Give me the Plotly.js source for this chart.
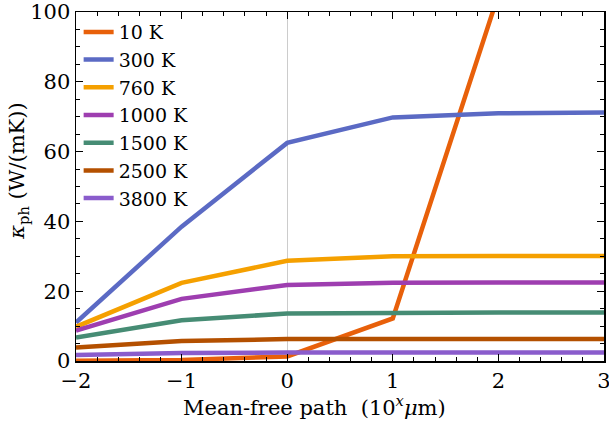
<!DOCTYPE html>
<html>
<head>
<meta charset="utf-8">
<script src="https://cdn.plot.ly/plotly-3.0.1.min.js"></script>
<style>html,body{margin:0;padding:0;background:#fff;}#plot{width:609px;height:426px;}</style>
</head>
<body>
<div id="plot"></div>
<script>
const mfp = [-2, -1, 0, 1, 2, 3];
const temps = ["10 K", "300 K", "760 K", "1000 K", "1500 K", "2500 K", "3800 K"];
const k10 = [0.05, 0.3, 1.3, 12.2, 105, 110];
const k300 = [11.0, 38.5, 62.5, 69.8, 71.0, 71.2];
const k760 = [9.8, 22.4, 28.7, 30.0, 30.1, 30.1];
const k1000 = [8.7, 17.8, 21.8, 22.4, 22.5, 22.5];
const k1500 = [6.7, 11.7, 13.6, 13.9, 13.9, 13.9];
const k2500 = [3.9, 5.7, 6.3, 6.3, 6.3, 6.3];
const k3800 = [1.7, 2.3, 2.4, 2.4, 2.4, 2.4];
const colors = ["#e8600a", "#5b6ac4", "#f5a000", "#9e3eb0", "#468c74", "#b45000", "#8a5ccc"];
const series = [k10, k300, k760, k1000, k1500, k2500, k3800];

const traces = series.map((ys, i) => ({
  x: mfp, y: ys, type: 'scatter', mode: 'lines', name: temps[i],
  line: {color: colors[i], width: 4.5}
}));

const fam = 'DejaVu Serif';
function mk(size) { return {family: fam, size: size, color: '#000'}; }
const layout = {
  width: 609, height: 426,
  margin: {l: 76, r: 5, t: 12, b: 65},
  paper_bgcolor: '#fff', plot_bgcolor: '#fff',
  font: mk(21),
  showlegend: true,
  legend: {x: 0.005, y: 0.997, xanchor: 'left', yanchor: 'top', bgcolor: 'rgba(0,0,0,0)',
           font: mk(19), tracegroupgap: 0, itemwidth: 30, maxheight: 1},
  xaxis: {
    range: [-2, 3], tickvals: [-2, -1, 0, 1, 2, 3], ticktext: ['\u22122', '\u22121', '0', '1', '2', '3'],
    showgrid: false, zeroline: true, zerolinecolor: '#cccccc', zerolinewidth: 1,
    showline: true, linecolor: '#000', linewidth: 1.5, mirror: 'ticks',
    ticks: 'inside', ticklen: 7, tickwidth: 1.2, tickcolor: '#000',
    ticklabeloverflow: 'allow',
    minor: {dtick: 0.2, ticks: 'inside', ticklen: 4, tickwidth: 1, tickcolor: '#000', showgrid: false},
    tickfont: mk(21)
  },
  yaxis: {
    range: [0, 100], tickvals: [0, 20, 40, 60, 80, 100],
    showgrid: false, zeroline: false,
    showline: true, linecolor: '#000', linewidth: 1.5, mirror: 'ticks',
    ticks: 'inside', ticklen: 7, tickwidth: 1.2, tickcolor: '#000',
    ticklabeloverflow: 'allow',
    minor: {dtick: 5, ticks: 'inside', ticklen: 4, tickwidth: 1, tickcolor: '#000', showgrid: false},
    tickfont: mk(21)
  },
  annotations: [
    {text: 'Mean-free path  (10<sup><i>x</i></sup><i>\u03bc</i>m)', xref: 'paper', yref: 'paper',
     x: 0.451, y: -0.128, xanchor: 'center', yanchor: 'middle', showarrow: false, font: mk(21)},
    {text: '<i>\u03ba</i><sub>ph</sub> (W/(mK))', xref: 'paper', yref: 'paper', textangle: -90,
     x: -0.11, y: 0.545, xanchor: 'center', yanchor: 'middle', showarrow: false, font: mk(21)}
  ]
};
Plotly.newPlot('plot', traces, layout, {staticPlot: true, displayModeBar: false});
</script>
</body>
</html>
